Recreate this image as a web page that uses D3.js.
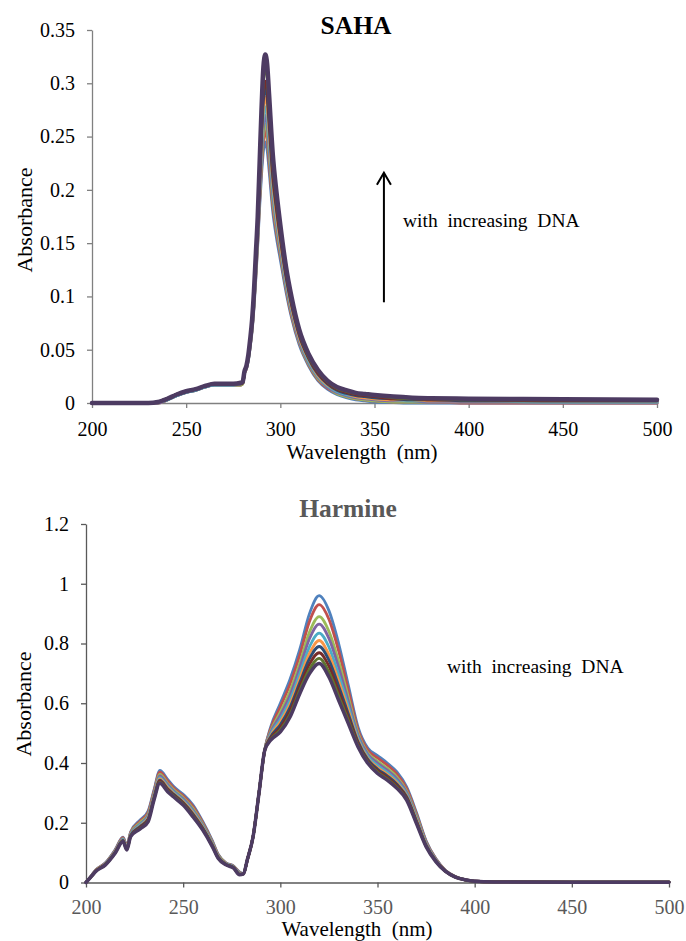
<!DOCTYPE html>
<html>
<head>
<meta charset="utf-8">
<script src="https://cdn.jsdelivr.net/npm/d3@7"></script>
<style>
  body { margin: 0; background: #fff; }
  svg { display: block; }
  svg text { font-family: "Liberation Serif", "Times New Roman", serif; }
</style>
</head>
<body>
<div id="chart"></div>
<script>
// ---- SAHA spectra (absorbance vs wavelength, one array per DNA addition)
const wlSaha = [200,210,220,230,235,240,245,250,255,260,265,270,275,279,280,281,282,283,284,285,286,287,288,289,290,291,292,293,294,296,298,300,303,306,310,315,320,325,330,335,340,345,350,360,370,380,400,450,500];

const saha1  = [0,0,0,0,0,.003,.007,.010,.012,.015,.017,.017,.017,.017,.018,.028,.032,.040,.053,.068,.090,.118,.150,.185,.215,.237,.245,.238,.220,.180,.155,.135,.105,.080,.055,.035,.021,.013,.008,.005,.003,.002,.001,.0005,0,0,0,0,0];
const saha2  = [0,0,0,0,0,.003,.007,.010,.012,.015,.017,.017,.017,.017,.018,.028,.032,.041,.054,.069,.092,.121,.153,.190,.222,.246,.255,.248,.228,.186,.160,.139,.108,.082,.057,.036,.022,.014,.009,.006,.004,.003,.002,.001,.001,.001,0,0,0];
const saha3  = [0,0,0,0,0,.003,.007,.010,.012,.015,.017,.017,.017,.017,.018,.028,.033,.041,.054,.070,.093,.123,.155,.193,.228,.253,.262,.255,.235,.191,.164,.142,.110,.084,.058,.037,.023,.015,.009,.006,.004,.003,.002,.001,.001,.001,.001,.001,.001];
const saha4  = [0,0,0,0,0,.003,.007,.010,.012,.015,.017,.017,.017,.018,.019,.029,.033,.042,.055,.071,.095,.125,.158,.197,.233,.260,.270,.262,.241,.196,.168,.145,.112,.086,.059,.038,.024,.015,.010,.007,.005,.004,.003,.002,.002,.001,.001,.001,.001];
const saha5  = [0,0,0,0,.001,.003,.007,.010,.012,.015,.017,.017,.017,.018,.019,.029,.033,.042,.056,.072,.096,.127,.160,.201,.239,.268,.278,.270,.248,.201,.172,.148,.114,.088,.061,.039,.025,.016,.011,.008,.006,.005,.004,.003,.002,.002,.002,.001,.001];
const saha6  = [0,0,0,0,.001,.004,.008,.011,.013,.016,.018,.018,.018,.018,.019,.029,.034,.043,.057,.073,.098,.129,.163,.205,.246,.277,.287,.279,.256,.207,.176,.151,.117,.090,.062,.041,.026,.017,.012,.009,.006,.005,.004,.003,.003,.002,.002,.002,.002];
const saha7  = [0,0,0,0,.001,.004,.008,.011,.013,.016,.018,.018,.018,.018,.019,.029,.034,.043,.057,.074,.099,.131,.165,.209,.252,.285,.295,.287,.263,.212,.181,.155,.119,.092,.064,.042,.027,.018,.012,.009,.007,.006,.005,.004,.003,.003,.002,.002,.002];
const saha8  = [0,0,0,0,.001,.004,.008,.011,.013,.016,.018,.018,.018,.018,.019,.029,.034,.044,.058,.075,.101,.133,.168,.213,.257,.292,.302,.294,.269,.217,.184,.157,.121,.093,.065,.043,.028,.019,.013,.010,.008,.007,.006,.004,.004,.003,.003,.002,.002];
const saha9  = [0,0,0,0,.001,.004,.008,.011,.013,.016,.018,.018,.018,.019,.020,.030,.035,.044,.059,.077,.103,.137,.171,.219,.266,.303,.315,.306,.280,.225,.191,.162,.125,.096,.067,.044,.030,.020,.014,.011,.009,.008,.007,.005,.004,.004,.003,.003,.003];
const saha10 = [0,0,0,0,.001,.004,.008,.011,.013,.016,.018,.018,.018,.019,.020,.030,.035,.045,.060,.078,.105,.140,.175,.225,.275,.315,.327,.318,.290,.233,.197,.167,.128,.099,.069,.046,.031,.021,.015,.012,.0095,.0085,.0075,.006,.005,.0045,.004,.0035,.003];

// ---- Harmine spectra
const wlHarm = [200,203,205,210,215,219,221,223,228,232,235,238,242,245,250,255,260,265,268,272,276,279,281,283,286,289,292,295,300,305,310,315,320,325,330,335,340,345,350,355,360,365,370,375,380,385,390,395,400,410,450,500];

const harm1  = [0,.025,.042,.066,.110,.152,.125,.170,.210,.240,.310,.375,.345,.322,.295,.260,.205,.140,.095,.066,.055,.035,.030,.075,.155,.300,.445,.520,.600,.680,.780,.900,.960,.910,.800,.660,.520,.450,.425,.400,.370,.320,.235,.140,.080,.040,.020,.010,.005,.002,.001,.001];
const harm2  = [0,.025,.041,.065,.108,.150,.123,.168,.206,.235,.306,.369,.340,.317,.290,.255,.201,.137,.093,.065,.054,.034,.030,.075,.155,.300,.445,.514,.588,.664,.761,.874,.930,.881,.775,.643,.511,.443,.417,.393,.363,.314,.230,.137,.079,.040,.020,.010,.005,.002,.001,.001];
const harm3  = [0,.024,.040,.064,.106,.147,.120,.165,.201,.229,.299,.362,.332,.311,.284,.248,.196,.134,.091,.064,.053,.032,.030,.075,.155,.299,.444,.506,.570,.641,.734,.838,.890,.841,.741,.620,.500,.434,.406,.382,.353,.306,.224,.134,.077,.039,.019,.010,.005,.002,.001,.001];
const harm4  = [0,.024,.040,.063,.105,.146,.118,.163,.197,.225,.296,.357,.328,.307,.280,.243,.193,.132,.089,.063,.052,.031,.030,.075,.155,.299,.444,.502,.560,.627,.718,.816,.865,.817,.720,.606,.492,.429,.400,.376,.347,.302,.219,.132,.076,.039,.019,.010,.005,.002,.001,.001];
const harm5  = [0,.023,.039,.062,.103,.144,.116,.161,.194,.220,.291,.351,.322,.303,.275,.238,.189,.129,.087,.062,.051,.030,.029,.076,.154,.299,.444,.496,.547,.611,.699,.789,.835,.788,.696,.590,.484,.422,.392,.369,.340,.296,.215,.129,.075,.038,.019,.009,.004,.002,.001,.001];
const harm6  = [0,.023,.039,.061,.102,.142,.114,.159,.190,.216,.288,.347,.318,.299,.271,.234,.186,.127,.086,.061,.050,.029,.029,.076,.154,.299,.444,.491,.537,.597,.682,.767,.810,.763,.675,.576,.476,.416,.385,.362,.334,.291,.211,.127,.073,.038,.019,.009,.004,.002,.001,.001];
const harm7  = [0,.023,.038,.061,.101,.141,.113,.158,.188,.213,.285,.343,.314,.296,.268,.230,.183,.125,.085,.061,.050,.028,.029,.076,.154,.299,.444,.487,.528,.586,.669,.749,.790,.744,.658,.564,.471,.412,.380,.357,.329,.287,.207,.125,.073,.038,.019,.009,.004,.002,.001,.001];
const harm8  = [0,.022,.038,.060,.100,.139,.112,.157,.185,.210,.281,.339,.311,.293,.265,.226,.181,.123,.083,.060,.049,.027,.029,.076,.154,.298,.443,.483,.519,.574,.656,.731,.769,.724,.640,.552,.465,.407,.375,.352,.324,.283,.204,.123,.072,.037,.018,.009,.004,.002,.001,.001];
const harm9  = [0,.022,.037,.060,.099,.138,.110,.155,.182,.207,.279,.335,.307,.290,.262,.223,.178,.122,.082,.060,.049,.027,.029,.076,.154,.298,.443,.479,.511,.563,.643,.714,.750,.705,.624,.542,.459,.403,.370,.347,.319,.279,.201,.122,.071,.037,.018,.009,.004,.002,.001,.001];
const harm10 = [0,.022,.037,.059,.098,.137,.109,.154,.180,.204,.276,.332,.304,.287,.259,.220,.176,.120,.081,.059,.048,.026,.029,.076,.154,.298,.443,.476,.504,.554,.632,.699,.733,.688,.610,.532,.454,.399,.365,.343,.315,.276,.198,.120,.070,.037,.018,.009,.004,.002,.001,.001];

// ---- ticks
const xTicks = [200, 250, 300, 350, 400, 450, 500];
const yLabelsSaha = ["0", "0.05", "0.1", "0.15", "0.2", "0.25", "0.3", "0.35"];
const yLabelsHarm = ["0", "0.2", "0.4", "0.6", "0.8", "1", "1.2"];

// Excel 2007 default series colours
const colors = ["#4F81BD", "#C0504D", "#9BBB59", "#8064A2", "#4BACC6",
                "#F79646", "#2C4D75", "#772C2A", "#5F7530", "#4D3B62"];

const serif = "'Liberation Serif', 'Times New Roman', serif";

const svg = d3.select("#chart")
  .append("svg")
    .attr("width", 686)
    .attr("height", 941);

const drawPanel = p => {
  const x = d3.scaleLinear().domain([200, 500]).range([p.left, p.right]);
  const y = d3.scaleLinear().domain([0, p.yMax]).range([p.bottom, p.top]);
  const g = svg.append("g");

  // y axis
  const yAxis = g.append("g")
      .attr("transform", `translate(${p.left},0)`)
      .call(d3.axisLeft(y)
        .tickValues(p.yLabels.map(Number))
        .tickFormat((d, i) => p.yLabels[i])
        .tickSize(5).tickSizeOuter(0).tickPadding(p.yPad))
      .attr("font-family", serif)
      .attr("font-size", 20);
  yAxis.select(".domain").attr("stroke", p.axisColor).attr("stroke-width", 1.3);
  yAxis.selectAll(".tick line").attr("stroke", p.axisColor).attr("stroke-width", 1.3);
  yAxis.selectAll("text").attr("fill", "#000");

  // x axis
  const xAxis = g.append("g")
      .attr("transform", `translate(0,${p.bottom})`)
      .call(d3.axisBottom(x)
        .tickValues(xTicks)
        .tickSize(5).tickSizeOuter(0).tickPadding(p.xPad))
      .attr("font-family", serif)
      .attr("font-size", 20);
  xAxis.select(".domain").attr("stroke", p.axisColor).attr("stroke-width", 1.3);
  xAxis.selectAll(".tick line").attr("stroke", p.axisColor).attr("stroke-width", 1.3);
  xAxis.selectAll("text").attr("fill", p.xTickColor);

  // spectra
  const line = d3.line()
      .x((d, i) => x(p.wl[i]))
      .y(d => y(d))
      .curve(d3.curveMonotoneX);

  g.selectAll("path.spectrum")
    .data(p.series)
    .join("path")
      .attr("class", "spectrum")
      .attr("d", line)
      .attr("fill", "none")
      .attr("stroke", (d, i) => colors[i])
      .attr("stroke-width", (d, i) => i === p.series.length - 1 ? p.lastWidth : p.lineWidth)
      .attr("stroke-linejoin", "round")
      .attr("stroke-linecap", "round");

  // title
  g.append("text")
      .attr("x", p.titleX)
      .attr("y", p.titleY)
      .attr("text-anchor", "middle")
      .attr("font-size", 25.5)
      .attr("font-weight", "bold")
      .attr("fill", p.titleColor)
      .text(p.title);

  // axis titles
  g.append("text")
      .attr("x", p.xTitleX)
      .attr("y", p.xTitleY)
      .attr("text-anchor", "middle")
      .attr("font-size", 21)
      .style("white-space", "pre")
      .text("Wavelength  (nm)");

  g.append("text")
      .attr("transform", `translate(${p.yTitleX},${p.yTitleY}) rotate(-90)`)
      .attr("text-anchor", "middle")
      .attr("font-size", 22)
      .text("Absorbance");

  // annotation
  g.append("text")
      .attr("x", p.noteX)
      .attr("y", p.noteY)
      .attr("font-size", 19.5)
      .style("white-space", "pre")
      .text("with  increasing  DNA");

  return { x, y, g };
};

// SAHA (top)
const sahaPanel = drawPanel({
  left: 92, right: 657, top: 30, bottom: 403, yMax: 0.35,
  yLabels: yLabelsSaha, yPad: 12, xPad: 14,
  axisColor: "#808080", xTickColor: "#000",
  wl: wlSaha,
  series: [saha1, saha2, saha3, saha4, saha5, saha6, saha7, saha8, saha9, saha10],
  lineWidth: 3, lastWidth: 4.5,
  title: "SAHA", titleColor: "#000", titleX: 356, titleY: 34,
  xTitleX: 362, xTitleY: 459,
  yTitleX: 32, yTitleY: 220,
  noteX: 403, noteY: 227
});

// arrow in the SAHA panel
const arrowX = sahaPanel.x(355);
const arrowTop = sahaPanel.y(0.216);
sahaPanel.g.append("line")
    .attr("x1", arrowX).attr("x2", arrowX)
    .attr("y1", sahaPanel.y(0.0945)).attr("y2", arrowTop)
    .attr("stroke", "#000").attr("stroke-width", 2);
sahaPanel.g.append("path")
    .attr("d", `M${arrowX - 7},${arrowTop + 12} L${arrowX},${arrowTop} L${arrowX + 7},${arrowTop + 12}`)
    .attr("fill", "none")
    .attr("stroke", "#000").attr("stroke-width", 2);

// Harmine (bottom)
drawPanel({
  left: 86, right: 669, top: 524, bottom: 882.5, yMax: 1.2,
  yLabels: yLabelsHarm, yPad: 12, xPad: 12,
  axisColor: "#595959", xTickColor: "#595959",
  wl: wlHarm,
  series: [harm1, harm2, harm3, harm4, harm5, harm6, harm7, harm8, harm9, harm10],
  lineWidth: 2.8, lastWidth: 3.5,
  title: "Harmine", titleColor: "#595959", titleX: 348, titleY: 517,
  xTitleX: 357, xTitleY: 936,
  yTitleX: 31, yTitleY: 704,
  noteX: 447, noteY: 673
});
</script>
</body>
</html>
